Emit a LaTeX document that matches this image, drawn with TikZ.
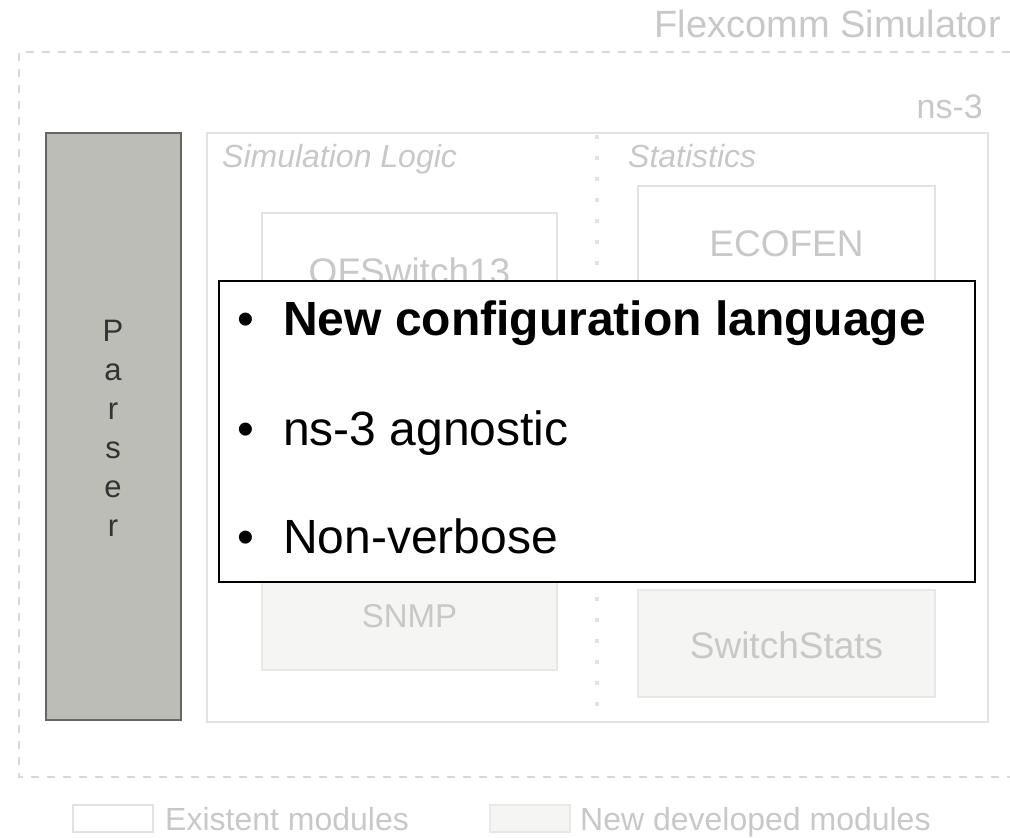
\documentclass[tikz,border=0pt]{standalone}
\usepackage{fontspec}
\setmainfont{Liberation Sans}
\definecolor{lbl}{HTML}{C8C8C8}
\definecolor{bord}{HTML}{E2E2E2}
\definecolor{dashcol}{HTML}{D8D8D8}
\definecolor{newfill}{HTML}{F5F5F3}
\definecolor{newbord}{HTML}{E8E8E6}
\definecolor{parsfill}{HTML}{BCBDB7}
\definecolor{parsbord}{HTML}{666666}
\definecolor{parstext}{HTML}{333333}
\newcommand{\fs}[1]{\fontsize{#1}{#1}\selectfont}
\tikzset{
  lab/.style={inner sep=0pt, text=lbl},
  oldbox/.style={draw=bord, line width=2pt, fill=white},
  newbox/.style={draw=newbord, line width=2pt, fill=newfill},
  plet/.style={inner sep=0pt, anchor=base, text=parstext, font=\fs{31}},
  bul/.style={inner sep=0pt, anchor=base west, text=black, font=\fs{48}}
}
\begin{document}
\begin{tikzpicture}[x=1pt,y=-1pt]
\useasboundingbox (0,0) rectangle (1010,838);
% title
\node[lab, anchor=base east, font=\fs{38}] (title) at (1001,37) {Flexcomm Simulator};
% outer dashed frame
\draw[dashcol, line width=1.5pt, dash pattern=on 8pt off 8pt] (1010,52) -- (19,52) -- (19,777) -- (1010,777);
% ns-3
\node[lab, anchor=base east, font=\fs{34}] (ns3) at (983,118) {ns-3};
\draw[bord, line width=2pt] (207,133) rectangle (988,722);
\coordinate (septop) at (597,135);
\coordinate (sepbot) at (597,720);
\draw[bord, line width=4pt, dash pattern=on 4pt off 17pt] (septop) -- (sepbot);
% parser
\draw[draw=parsbord, fill=parsfill, line width=2.5pt] (46,133) rectangle (181,720);
\node[plet] (p1) at (113,341) {P};
\node[plet] (p2) at (113,380) {a};
\node[plet] (p3) at (113,419) {r};
\node[plet] (p4) at (113,458) {s};
\node[plet] (p5) at (113,497) {e};
\node[plet] (p6) at (113,536) {r};
% section titles
\node[lab, anchor=base west, font=\fs{32}\itshape] (simlog) at (222,167) {Simulation Logic};
\node[lab, anchor=base west, font=\fs{32}\itshape] (stats) at (628,167) {Statistics};
% module boxes
\draw[oldbox] (262,213) rectangle (557,340);
\node[lab, anchor=base, font=\fs{37}] (ofs) at (409.5,284) {OFSwitch13};
\draw[oldbox] (638,186) rectangle (935,320);
\node[lab, anchor=base, font=\fs{37}] (eco) at (786.5,256) {ECOFEN};
\draw[newbox] (262,540) rectangle (557,670);
\node[lab, anchor=base, font=\fs{33}] (snmp) at (409.5,627) {SNMP};
\draw[newbox] (638,590) rectangle (935,697);
\node[lab, anchor=base, font=\fs{37}] (sws) at (786.5,658) {SwitchStats};
% overlay
\draw[black, line width=1.2pt, fill=white] (219,281) rectangle (975,582);
\node[bul] (b1) at (237,335) {•};
\node[bul, font=\fs{48}\bfseries] (t1) at (283,335) {New configuration language};
\node[bul] (b2) at (237,445) {•};
\node[bul] (t2) at (283,445) {ns-3 agnostic};
\node[bul] (b3) at (237,553) {•};
\node[bul] (t3) at (283,553) {Non-verbose};
% legend
\draw[oldbox] (73,805) rectangle (153,832);
\node[lab, anchor=base west, font=\fs{32}] (leg1) at (165,830) {Existent modules};
\draw[newbox] (490,805) rectangle (570,832);
\node[lab, anchor=base west, font=\fs{32}] (leg2) at (580,830) {New developed modules};
\end{tikzpicture}
\end{document}
